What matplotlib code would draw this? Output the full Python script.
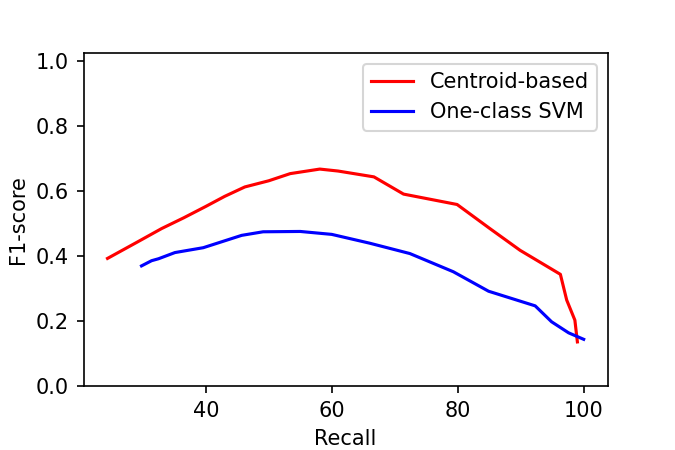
import matplotlib
matplotlib.use('Agg')
import matplotlib.pyplot as plt

# valores
recall_centroid = [24.4, 29.0, 33.0, 36.5, 40.0, 43.0, 46.2, 50.0, 53.4, 58.1,
                   61.0, 66.7, 71.4, 79.9, 85.1, 89.9, 96.3, 97.3, 98.6, 99.0]
f1_centroid = [0.393, 0.442, 0.485, 0.518, 0.553, 0.584, 0.613, 0.632, 0.654, 0.668,
               0.662, 0.644, 0.591, 0.559, 0.485, 0.418, 0.344, 0.265, 0.203, 0.136]

recall_svm = [29.8, 31.4, 32.5, 35.1, 39.6, 45.7, 49.1, 55.0, 60.0, 66.0,
              72.4, 79.3, 84.9, 92.3, 94.9, 97.6, 100.0]
f1_svm = [0.370, 0.386, 0.392, 0.411, 0.426, 0.464, 0.475, 0.476, 0.467, 0.440,
          0.408, 0.352, 0.292, 0.247, 0.198, 0.164, 0.144]

fig = plt.figure(figsize=(4.5, 3), dpi=150)
ax = fig.add_axes([0.124, 0.142, 0.776, 0.740])

ax.plot(recall_centroid, f1_centroid, color='red', lw=1.5, label='Centroid-based')
ax.plot(recall_svm, f1_svm, color='blue', lw=1.5, label='One-class SVM')

ax.set_ylim(0, 1.025)
ax.set_yticks([0.0, 0.2, 0.4, 0.6, 0.8, 1.0])
ax.set_xticks([40, 60, 80, 100])
ax.set_xlabel('Recall')
ax.set_ylabel('F1-score')
ax.legend(loc='upper right')

fig.savefig('out.png', dpi=150)
plt.close('all')
